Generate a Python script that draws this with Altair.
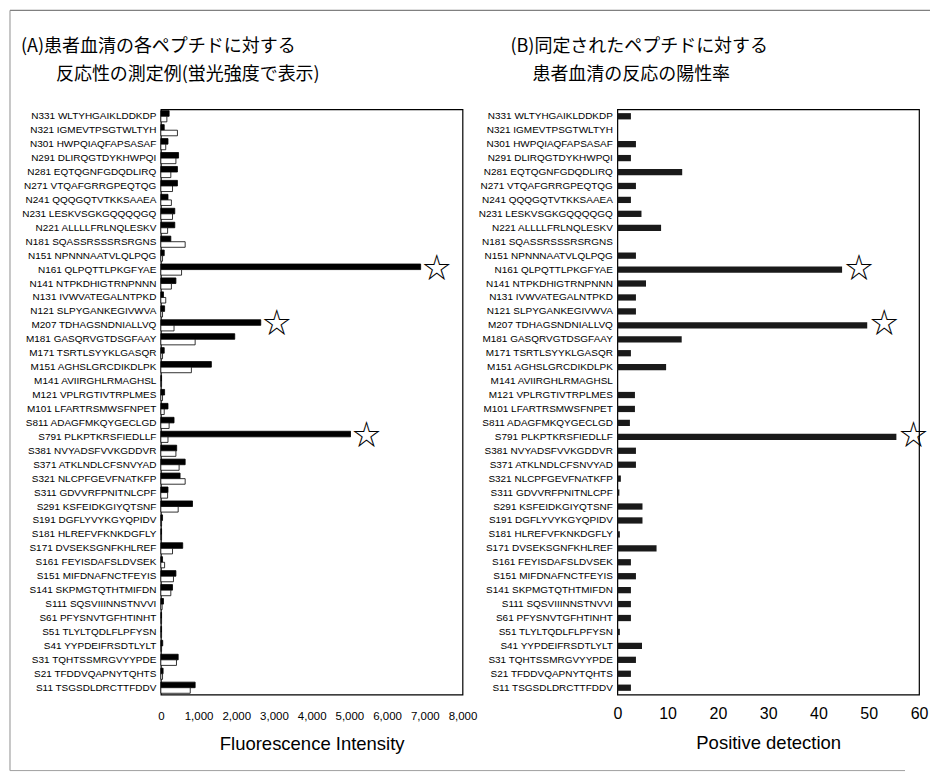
import altair as alt
import pandas as pd

labels = [
    "N331 WLTYHGAIKLDDKDP", "N321 IGMEVTPSGTWLTYH", "N301 HWPQIAQFAPSASAF",
    "N291 DLIRQGTDYKHWPQI", "N281 EQTQGNFGDQDLIRQ", "N271 VTQAFGRRGPEQTQG",
    "N241 QQQGQTVTKKSAAEA", "N231 LESKVSGKGQQQQGQ", "N221 ALLLLFRLNQLESKV",
    "N181 SQASSRSSSRSRGNS", "N151 NPNNNAATVLQLPQG", "N161 QLPQTTLPKGFYAE",
    "N141 NTPKDHIGTRNPNNN", "N131 IVWVATEGALNTPKD", "N121 SLPYGANKEGIVWVA",
    "M207 TDHAGSNDNIALLVQ", "M181 GASQRVGTDSGFAAY", "M171 TSRTLSYYKLGASQR",
    "M151 AGHSLGRCDIKDLPK", "M141 AVIIRGHLRMAGHSL", "M121 VPLRGTIVTRPLMES",
    "M101 LFARTRSMWSFNPET", "S811 ADAGFMKQYGECLGD", "S791 PLKPTKRSFIEDLLF",
    "S381 NVYADSFVVKGDDVR", "S371 ATKLNDLCFSNVYAD", "S321 NLCPFGEVFNATKFP",
    "S311 GDVVRFPNITNLCPF", "S291 KSFEIDKGIYQTSNF", "S191 DGFLYVYKGYQPIDV",
    "S181 HLREFVFKNKDGFLY", "S171 DVSEKSGNFKHLREF", "S161 FEYISDAFSLDVSEK",
    "S151 MIFDNAFNCTFEYIS", "S141 SKPMGTQTHTMIFDN", "S111 SQSVIIINNSTNVVI",
    "S61 PFYSNVTGFHTINHT", "S51 TLYLTQDLFLPFYSN", "S41 YYPDEIFRSDTLYLT",
    "S31 TQHTSSMRGVYYPDE", "S21 TFDDVQAPNYTQHTS", "S11 TSGSDLDRCTTFDDV",
]

# Fluorescence intensity: filled (upper) bar and open (lower) bar per peptide
fluor_filled = [220, 90, 190, 470, 440, 440, 190, 370, 370, 265, 90, 6890, 400, 70, 100,
                2650, 1960, 90, 1340, 20, 100, 190, 350, 5030,
                420, 645, 510, 190, 840, 45, 20, 580, 45, 400, 310, 70, 20, 20, 50, 460, 60, 910]
fluor_open = [160, 440, 130, 400, 265, 310, 280, 310, 180, 645, 45, 550, 280, 130, 45,
              350, 910, 45, 810, 20, 45, 90, 220, 190,
              400, 485, 645, 180, 460, 20, 20, 310, 100, 335, 265, 35, 20, 20, 20, 415, 45, 780]

# Positive detection rate
positive = [2.7, 0, 3.7, 2.7, 12.9, 3.7, 2.7, 4.8, 8.7, 0, 3.7, 44.7, 5.7, 3.7, 3.7,
            49.7, 12.8, 2.7, 9.7, 0, 3.5, 3.5, 2.5, 55.5,
            3.7, 3.7, 0.7, 0.4, 5.0, 5.0, 0.5, 7.8, 2.7, 3.7, 2.7, 2.7, 2.7, 0.5, 4.9, 3.7, 2.7, 2.7]

starred = ["N161 QLPQTTLPKGFYAE", "M207 TDHAGSNDNIALLVQ", "S791 PLKPTKRSFIEDLLF"]

left_ticks = [0, 1000, 2000, 3000, 4000, 5000, 6000, 7000, 8000]
right_ticks = [0, 10, 20, 30, 40, 50, 60]

title_a = ["(A)患者血清の各ペプチドに対する", "反応性の測定例(蛍光強度で表示)"]
title_b = ["(B)同定されたペプチドに対する", "患者血清の反応の陽性率"]

FONT = "Liberation Sans"
JP = "Noto Sans CJK JP"

df_a = pd.DataFrame({
    "label": labels * 2,
    "value": fluor_filled + fluor_open,
    "series": ["filled"] * len(labels) + ["open"] * len(labels),
})
df_a_star = pd.DataFrame({
    "label": starred,
    "value": [fluor_filled[labels.index(s)] for s in starred],
})
df_b = pd.DataFrame({"label": labels, "value": positive})
df_b_star = pd.DataFrame({
    "label": starred,
    "value": [positive[labels.index(s)] for s in starred],
})

W, H = 302, 586

def y_enc(pad_inner, pad_outer):
    return alt.Y(
        "label:N", sort=labels, title=None,
        scale=alt.Scale(paddingInner=pad_inner, paddingOuter=pad_outer),
        axis=alt.Axis(labelFont=FONT, labelFontSize=10, labelColor="black",
                      ticks=False, domain=False, labelPadding=5, labelLimit=300),
    )

def x_enc(title, values, fmt, size, domain, lpad, tpad):
    return alt.X(
        "value:Q", scale=alt.Scale(domain=domain, nice=False),
        axis=alt.Axis(values=values, format=fmt, title=title, grid=False, ticks=False,
                      domain=False, labelFont=FONT, labelFontSize=size, labelColor="black",
                      labelOverlap=False, labelFlush=False, labelPadding=lpad,
                      titleFont=FONT, titleFontSize=18.5, titleFontWeight="normal",
                      titleColor="black", titlePadding=tpad),
    )

def title_layer(lines, x1, x2):
    df_t = pd.DataFrame({"t": lines, "px": [x1, x2], "py": [-62, -34]})
    return alt.Chart(df_t).mark_text(
        font=JP, fontSize=18, color="black", align="left", baseline="middle",
    ).encode(
        text="t:N",
        x=alt.X("px:Q", scale=None),
        y=alt.Y("py:Q", scale=None),
    )

# scanned page frame (decoration around the figure)
one = pd.DataFrame({"k": [0]})
frame_top = alt.Chart(one).mark_rule(color="#808080", strokeWidth=1.2).encode(
    x=alt.value(-151), x2=alt.value(770), y=alt.value(-99))
frame_left = alt.Chart(one).mark_rule(color="#909090", strokeWidth=1).encode(
    x=alt.value(-151), y=alt.value(-99), y2=alt.value(662))
frame_bottom = alt.Chart(one).mark_rule(color="#a0a0a0", strokeWidth=1).encode(
    x=alt.value(-151), x2=alt.value(745), y=alt.value(662))

xa = x_enc("Fluorescence Intensity", left_ticks, ",.0f", 11.5, [0, 8000], 16, 12)
xb = x_enc("Positive detection", right_ticks, ".0f", 16, [0, 60], 11, 12)

bars_a = alt.Chart(df_a).mark_bar(stroke="black", strokeWidth=0.8).encode(
    y=y_enc(0.2, 0.1),
    x=xa,
    yOffset=alt.YOffset("series:N", sort=["filled", "open"]),
    fill=alt.Fill("series:N", scale=alt.Scale(domain=["filled", "open"], range=["black", "white"]),
                  legend=None),
)
stars_a = alt.Chart(df_a_star).mark_text(
    text="☆", font=JP, fontSize=28, dx=16, color="black", baseline="middle", align="center",
).encode(
    y=alt.Y("label:N", sort=labels),
    x=xa,
)
chart_a = alt.layer(
    bars_a, stars_a, title_layer(title_a, -140, -105), frame_top, frame_left, frame_bottom
).properties(width=W, height=H)

bars_b = alt.Chart(df_b).mark_bar(color="#1a1a1a").encode(
    y=y_enc(0.55, 0.275),
    x=xb,
)
stars_b = alt.Chart(df_b_star).mark_text(
    text="☆", font=JP, fontSize=28, dx=17, color="black", baseline="middle", align="center",
).encode(
    y=alt.Y("label:N", sort=labels),
    x=xb,
)
chart_b = alt.layer(bars_b, stars_b, title_layer(title_b, -107, -85)).properties(
    width=W, height=H,
)

chart = alt.hconcat(chart_a, chart_b, spacing=155, bounds="flush").properties(
    padding={"left": 0, "top": 0, "right": 0, "bottom": 0},
    background="white",
).configure_view(stroke="black", strokeWidth=1.2)

chart.save("out.html", embed_options={"renderer": "svg", "actions": False})
